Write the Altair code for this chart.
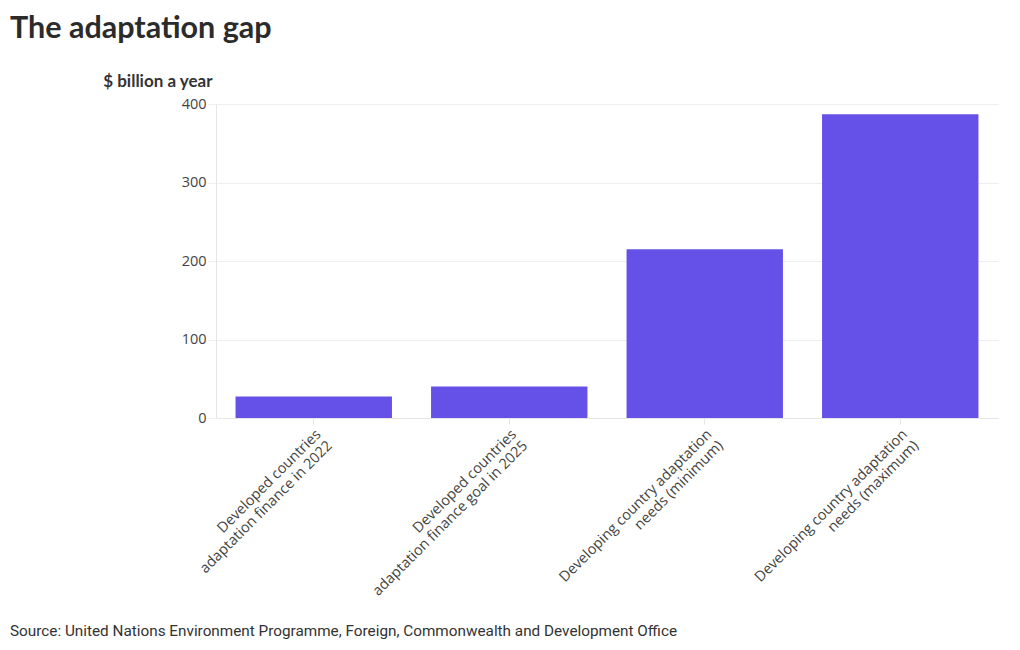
import altair as alt
import pandas as pd

categories = [
    "Developed countries\nadaptation finance in 2022",
    "Developed countries\nadaptation finance goal in 2025",
    "Developing country adaptation\nneeds (minimum)",
    "Developing country adaptation\nneeds (maximum)",
]
values = [27.5, 40, 215, 387]
y_ticks = [0, 100, 200, 300, 400]

title_text = "The adaptation gap"
y_title = "$ billion a year"
source_text = "Source: United Nations Environment Programme, Foreign, Commonwealth and Development Office"

df = pd.DataFrame({"category": categories, "value": values})

W, H = 782, 314
BAR = "#6550E8"
LABEL_FONT = "Open Sans"

bars = alt.Chart(df).mark_bar(color=BAR).encode(
    x=alt.X(
        "category:N",
        sort=categories,
        scale=alt.Scale(paddingInner=0.2, paddingOuter=0.1),
        axis=alt.Axis(
            title=None,
            labelAngle=315,
            labelAlign="right",
            labelBaseline="top",
            labelExpr="split(datum.label, '\\n')",
            labelFont=LABEL_FONT,
            labelFontSize=14.5,
            labelColor="#444444",
            labelPadding=3,
            labelLineHeight=16,
            labelLimit=0,
            tickSize=6,
            tickColor="#e6e6e6",
            domainColor="#e6e6e6",
            grid=False,
        ),
    ),
    y=alt.Y(
        "value:Q",
        scale=alt.Scale(domain=[0, 400]),
        axis=alt.Axis(
            title=y_title,
            titleAngle=0,
            titleAlign="right",
            titleBaseline="alphabetic",
            titleX=-4,
            titleY=-18,
            titleFont="Lato",
            titleFontSize=17,
            titleFontWeight="bold",
            titleColor="#333333",
            values=y_ticks,
            labelFont=LABEL_FONT,
            labelFontSize=14.5,
            labelColor="#444444",
            labelPadding=2,
            tickSize=8,
            tickColor="#eeeeee",
            gridColor="#eeeeee",
            domainColor="#e6e6e6",
        ),
    ),
)

title_df = pd.DataFrame({"t": [title_text]})
title = alt.Chart(title_df).mark_text(
    align="left", baseline="alphabetic", font="Lato", fontSize=30.5,
    fontWeight="bold", color="#2b2b2b",
).encode(text="t:N", x=alt.value(-206), y=alt.value(-66))

src_df = pd.DataFrame({"t": [source_text]})
source = alt.Chart(src_df).mark_text(
    align="left", baseline="alphabetic", font="Roboto", fontSize=15.3,
    color="#333333",
).encode(text="t:N", x=alt.value(-206), y=alt.value(532))

chart = alt.layer(bars, title, source).properties(
    width=W, height=H,
    autosize=alt.AutoSizeParams(type="none"),
    padding={"left": 208, "top": 96, "right": 14, "bottom": 236},
).configure_view(stroke=None)

chart.save("out.html", embed_options={"renderer": "svg", "actions": False})
